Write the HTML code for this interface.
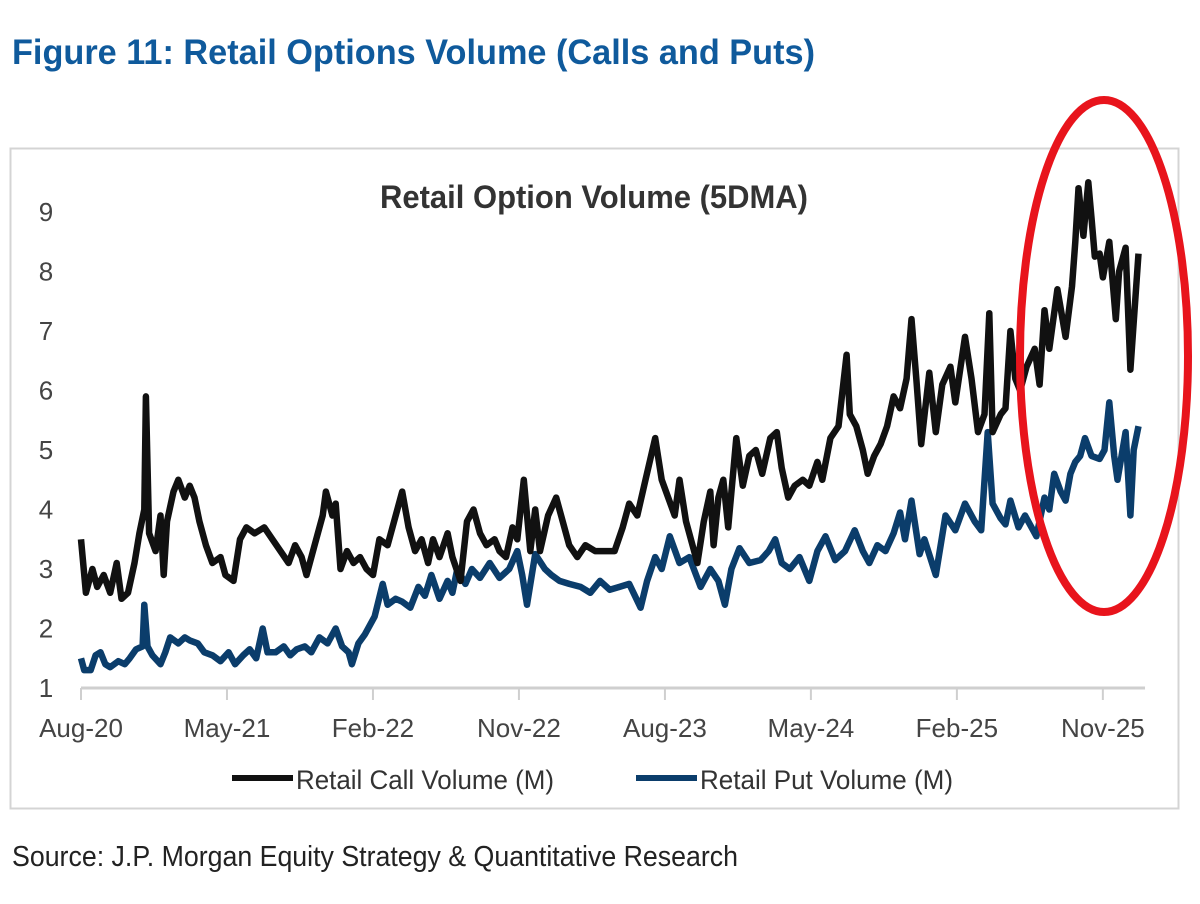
<!DOCTYPE html>
<html><head><meta charset="utf-8">
<style>
html,body{margin:0;padding:0;background:#fff;}
svg{display:block;font-family:"Liberation Sans",Arial,sans-serif;}
</style></head>
<body>
<svg id="chart" width="1200" height="904" viewBox="0 0 1200 904">
  <text x="12" y="64" font-size="35" font-weight="bold" fill="#0f5a9c" textLength="803" lengthAdjust="spacingAndGlyphs">Figure 11: Retail Options Volume (Calls and Puts)</text>
  <rect x="10.5" y="148.5" width="1168" height="660" fill="#fff" stroke="#d4d4d4" stroke-width="2"/>
  <text x="380" y="208" font-size="32" font-weight="bold" fill="#333" textLength="428" lengthAdjust="spacingAndGlyphs">Retail Option Volume (5DMA)</text>
  <g id="yaxis"></g>
  <g id="xaxis"></g>
  <g id="series"></g>
  <g>
    <g>
      <line x1="232" y1="778" x2="293" y2="778" stroke="#111" stroke-width="6"/>
      <text x="296" y="789" font-size="27" fill="#333" textLength="258" lengthAdjust="spacingAndGlyphs">Retail Call Volume (M)</text>
    </g>
    <g>
      <line x1="636" y1="778" x2="697" y2="778" stroke="#0b3d6b" stroke-width="6"/>
      <text x="700" y="789" font-size="27" fill="#333" textLength="253" lengthAdjust="spacingAndGlyphs">Retail Put Volume (M)</text>
    </g>
  </g>
  <ellipse cx="1104" cy="356" rx="84" ry="256" fill="none" stroke="#e8141c" stroke-width="8"/>
  <text x="12" y="866" font-size="29" fill="#222" textLength="726" lengthAdjust="spacingAndGlyphs">Source: J.P. Morgan Equity Strategy &amp; Quantitative Research</text>
</svg>
<script>
// months since Aug-2020
const callMonths=[0,.3,.7,1.0,1.4,1.8,2.2,2.5,2.9,3.3,3.6,3.9,4.0,4.2,4.6,4.9,5.1,5.3,5.7,6.0,6.4,6.7,7.0,7.3,7.7,8.1,8.6,8.9,9.4,9.8,10.2,10.7,11.3,11.8,12.3,12.8,13.2,13.6,13.9,14.4,14.9,15.1,15.5,15.7,16.0,16.4,16.8,17.2,17.6,18.0,18.4,18.9,19.4,19.8,20.2,20.6,21.0,21.4,21.7,22.1,22.6,22.9,23.4,23.8,24.2,24.6,25.0,25.5,25.8,26.2,26.6,26.9,27.3,27.7,28.0,28.3,28.8,29.3,29.7,30.1,30.6,31.1,31.7,32.3,32.9,33.4,33.8,34.3,34.8,35.4,35.8,36.2,36.6,36.9,37.3,37.7,38.0,38.4,38.8,39.0,39.3,39.6,39.9,40.4,40.8,41.2,41.6,42.0,42.5,42.9,43.2,43.6,44.0,44.5,44.9,45.4,45.7,46.2,46.7,47.2,47.4,47.8,48.2,48.5,48.9,49.3,49.7,50.1,50.5,50.9,51.2,51.5,51.8,52.3,52.7,53.1,53.6,53.9,54.5,54.9,55.3,55.7,56.0,56.2,56.7,57.0,57.3,57.6,57.9,58.3,58.8,59.1,59.4,59.7,60.2,60.7,61.1,61.3,61.5,61.8,62.1,62.3,62.5,62.8,63.0,63.4,63.8,64.0,64.4,64.7,65.2];
const callValues=[3.5,2.6,3.0,2.7,2.9,2.6,3.1,2.5,2.6,3.1,3.6,4.0,5.9,3.6,3.3,3.9,2.9,3.8,4.3,4.5,4.2,4.4,4.2,3.8,3.4,3.1,3.2,2.9,2.8,3.5,3.7,3.6,3.7,3.5,3.3,3.1,3.4,3.2,2.9,3.4,3.9,4.3,3.9,4.1,3.0,3.3,3.1,3.2,3.0,2.9,3.5,3.4,3.9,4.3,3.7,3.3,3.5,3.1,3.5,3.2,3.6,3.2,2.8,3.8,4.0,3.6,3.4,3.5,3.3,3.2,3.7,3.5,4.5,3.3,4.0,3.3,3.9,4.2,3.8,3.4,3.2,3.4,3.3,3.3,3.3,3.7,4.1,3.9,4.5,5.2,4.5,4.2,3.9,4.5,3.8,3.4,3.1,3.8,4.3,3.4,4.2,4.5,3.7,5.2,4.4,4.9,5.0,4.6,5.2,5.3,4.7,4.2,4.4,4.5,4.4,4.8,4.5,5.2,5.4,6.6,5.6,5.4,5.0,4.6,4.9,5.1,5.4,5.9,5.7,6.2,7.2,6.2,5.1,6.3,5.3,6.1,6.4,5.8,6.9,6.2,5.3,5.6,7.3,5.3,5.6,5.7,7.0,6.2,6.0,6.4,6.7,6.1,7.35,6.7,7.7,6.9,7.75,8.5,9.4,8.6,9.5,8.9,8.25,8.3,7.9,8.5,7.2,8.0,8.4,6.35,8.3];
const putMonths=[0,.2,.6,.9,1.2,1.5,1.8,2.3,2.7,3.0,3.4,3.8,3.9,4.1,4.4,4.9,5.2,5.5,6.0,6.4,6.7,7.2,7.6,8.1,8.6,9.1,9.5,10.0,10.4,10.8,11.2,11.5,12.0,12.5,12.9,13.3,13.8,14.2,14.7,15.2,15.7,16.1,16.5,16.7,17.1,17.5,18.1,18.6,18.9,19.4,19.8,20.3,20.8,21.2,21.6,22.1,22.6,22.9,23.2,23.7,24.1,24.6,25.2,25.8,26.4,26.9,27.2,27.5,28.0,28.6,29.0,29.5,30.1,30.8,31.4,32.0,32.6,33.2,33.8,34.5,34.9,35.4,35.8,36.3,36.9,37.5,38.2,38.8,39.3,39.7,40.1,40.6,41.2,41.9,42.4,42.8,43.2,43.7,44.3,44.9,45.4,45.9,46.5,47.1,47.7,48.2,48.6,49.1,49.6,50.1,50.5,50.8,51.2,51.7,52.0,52.7,53.3,53.9,54.5,55.1,55.5,55.9,56.2,56.7,57.0,57.3,57.8,58.2,58.5,58.9,59.4,59.7,60.0,60.4,60.7,61.0,61.3,61.6,61.9,62.3,62.8,63.1,63.4,63.7,63.9,64.4,64.7,64.9,65.2];
const putValues=[1.5,1.3,1.3,1.55,1.6,1.4,1.35,1.45,1.4,1.5,1.65,1.7,2.4,1.7,1.55,1.4,1.6,1.85,1.75,1.85,1.8,1.75,1.6,1.55,1.45,1.6,1.4,1.55,1.65,1.5,2.0,1.6,1.6,1.7,1.55,1.65,1.7,1.6,1.85,1.75,2.0,1.7,1.6,1.4,1.75,1.9,2.2,2.75,2.4,2.5,2.45,2.35,2.7,2.55,2.9,2.5,2.8,2.6,3.0,2.75,3.0,2.85,3.1,2.85,3.0,3.3,2.9,2.4,3.25,3.0,2.9,2.8,2.75,2.7,2.6,2.8,2.65,2.7,2.75,2.35,2.8,3.2,3.0,3.55,3.1,3.2,2.7,3.0,2.8,2.4,3.0,3.35,3.1,3.15,3.3,3.5,3.1,3.0,3.2,2.8,3.3,3.55,3.15,3.3,3.65,3.3,3.1,3.4,3.3,3.6,3.95,3.5,4.15,3.25,3.5,2.9,3.9,3.65,4.1,3.8,3.65,5.3,4.1,3.85,3.75,4.15,3.7,3.9,3.75,3.55,4.2,4.0,4.6,4.3,4.15,4.6,4.8,4.9,5.2,4.9,4.85,5.0,5.8,4.9,4.5,5.3,3.9,5.0,5.4];
const yTicks=[1,2,3,4,5,6,7,8,9];
const xTickMonths=[0,9,18,27,36,45,54,63];
const xTickLabels=["Aug-20","May-21","Feb-22","Nov-22","Aug-23","May-24","Feb-25","Nov-25"];

const NS="http://www.w3.org/2000/svg";
const X0=81, PX_PER_MONTH=16.22, Y1=688, PX_PER_UNIT=59.5;
function xScale(m){return X0+m*PX_PER_MONTH;}
function yScale(v){return Y1-(v-1)*PX_PER_UNIT;}

const yax=document.getElementById('yaxis');
yTicks.forEach(v=>{
  const t=document.createElementNS(NS,'text');
  
  
  t.setAttribute('x',46);t.setAttribute('y',yScale(v)+9);
  t.setAttribute('font-size','26');t.setAttribute('fill','#444');t.setAttribute('text-anchor','middle');
  t.textContent=v;yax.appendChild(t);
});
const xax=document.getElementById('xaxis');
const axl=document.createElementNS(NS,'line');


axl.setAttribute('x1',X0);axl.setAttribute('x2',xScale(65.6));axl.setAttribute('y1',Y1);axl.setAttribute('y2',Y1);
axl.setAttribute('stroke','#cfcfcf');axl.setAttribute('stroke-width','3');xax.appendChild(axl);
xTickMonths.forEach((m,i)=>{
  const tk=document.createElementNS(NS,'line');
  
  
  tk.setAttribute('x1',xScale(m));tk.setAttribute('x2',xScale(m));tk.setAttribute('y1',Y1);tk.setAttribute('y2',Y1+12);
  tk.setAttribute('stroke','#cfcfcf');tk.setAttribute('stroke-width','2');xax.appendChild(tk);
  const t=document.createElementNS(NS,'text');
  
  
  t.setAttribute('x',xScale(m));t.setAttribute('y',737);
  t.setAttribute('font-size','26');t.setAttribute('fill','#444');t.setAttribute('text-anchor','middle');
  t.textContent=xTickLabels[i];xax.appendChild(t);
});
const ser=document.getElementById('series');
function drawLine(ms,vs,color,name){
  const p=document.createElementNS(NS,'path');
  
  
  p.setAttribute('d',ms.map((m,i)=>(i?'L':'M')+xScale(m).toFixed(1)+' '+yScale(vs[i]).toFixed(1)).join(' '));
  p.setAttribute('fill','none');p.setAttribute('stroke',color);p.setAttribute('stroke-width','6.5');
  p.setAttribute('stroke-linejoin','round');
  ser.appendChild(p);
}
drawLine(putMonths,putValues,'#0b3d6b','put-volume-line');
drawLine(callMonths,callValues,'#111','call-volume-line');
</script>
</body></html>
